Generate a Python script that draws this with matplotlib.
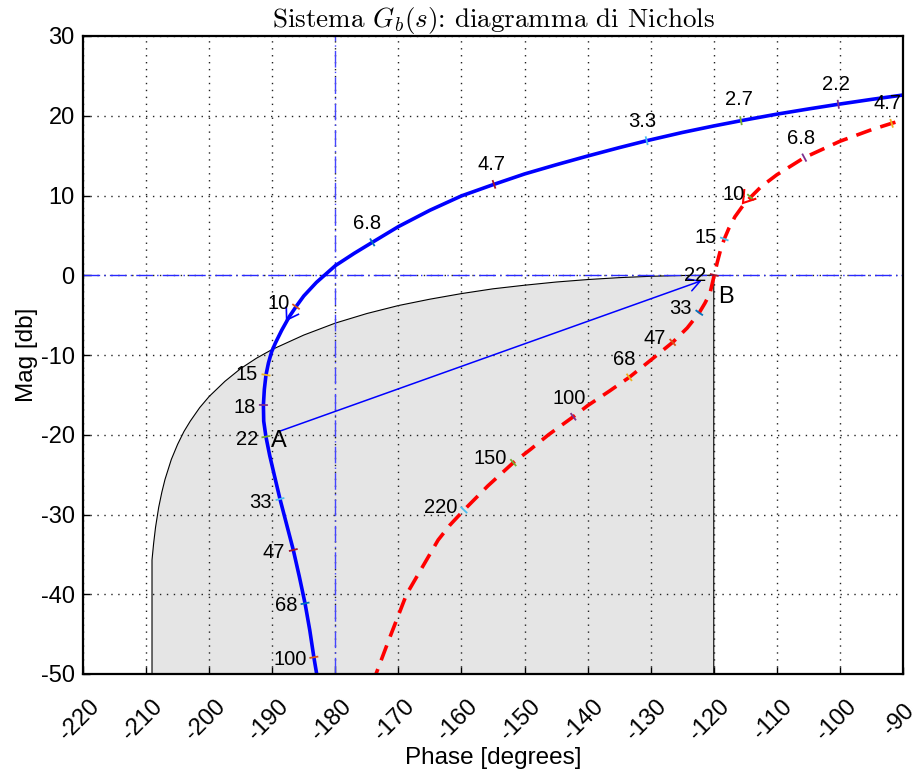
import numpy as np
import matplotlib
matplotlib.use("Agg")
import matplotlib.pyplot as plt
import matplotlib.transforms as mtransforms

plt.rcParams["font.family"] = ["Liberation Sans", "DejaVu Sans"]
plt.rcParams["mathtext.fontset"] = "cm"
plt.rcParams["axes.unicode_minus"] = False

# ---- Nichols loci (phase [deg], magnitude [dB]), ordered by increasing frequency
# uncompensated loop
g_phase = [-85.0, -90.0, -95.0, -100.26, -105.0, -110.0, -115.69, -120.0, -125.0,
           -130.64, -135.0, -140.0, -145.0, -150.0, -154.84, -160.0, -165.0, -170.0,
           -174.13, -177.0, -180.0, -183.0, -185.0, -186.23, -187.3, -188.5, -189.5,
           -190.1, -190.6, -190.99, -191.25, -191.4, -191.35, -191.0, -190.4, -189.6,
           -188.77, -187.7, -186.66, -185.7, -184.8, -184.05, -183.4, -182.95, -182.6]
g_mag = [23.1, 22.6, 22.05, 21.44, 20.85, 20.2, 19.38, 18.72, 17.9,
         16.87, 16.0, 14.95, 13.85, 12.7, 11.4, 9.95, 8.15, 6.1,
         4.13, 2.75, 1.2, -0.9, -2.6, -3.94, -5.2, -6.9, -8.5,
         -9.6, -11.0, -12.5, -14.3, -16.27, -18.3, -20.24, -22.6, -25.3,
         -28.06, -31.3, -34.45, -37.8, -41.14, -44.5, -47.9, -50.0, -52.0]

# compensated loop G_b
gb_phase = [-85.0, -90.0, -91.8, -95.0, -100.0, -105.65, -110.0, -112.5, -114.17,
            -115.4, -116.64, -117.6, -118.33, -118.95, -119.45, -119.92, -120.6,
            -121.4, -122.3, -124.2, -126.52, -130.0, -133.4, -136.5, -140.0, -142.27,
            -146.2, -149.0, -151.78, -155.8, -159.6, -161.8, -163.7, -166.2, -168.7,
            -171.5, -173.55, -174.4]
gb_mag = [20.3, 19.47, 19.05, 18.25, 16.8, 14.75, 12.6, 11.1, 9.78,
          8.7, 7.34, 5.9, 4.55, 3.1, 1.6, 0.03, -2.26,
          -3.5, -4.7, -6.6, -8.41, -10.65, -12.8, -14.5, -16.35, -17.74,
          -20.0, -21.8, -23.5, -26.4, -29.44, -31.3, -33.2, -36.6, -40.0,
          -45.7, -50.0, -52.0]

# frequency markers [rad/s]
g_marks = ["2.2", "2.7", "3.3", "4.7", "6.8", "10", "15", "18", "22", "33", "47", "68", "100"]
g_mark_phase = [-100.26, -115.69, -130.64, -154.84, -174.13, -186.23, -190.99,
                -191.4, -191.0, -188.77, -186.66, -184.8, -183.4]
g_mark_mag = [21.44, 19.38, 16.87, 11.4, 4.13, -3.94, -12.5,
              -16.27, -20.24, -28.06, -34.45, -41.14, -47.9]

gb_marks = ["4.7", "6.8", "10", "15", "22", "33", "47", "68", "100", "150", "220"]
gb_mark_phase = [-91.8, -105.65, -114.17, -118.33, -119.92, -122.3, -126.52,
                 -133.4, -142.27, -151.78, -159.6]
gb_mark_mag = [19.05, 14.75, 9.78, 4.55, 0.03, -4.7, -8.41,
               -12.8, -17.74, -23.5, -29.44]

# direction arrows (placed just past the 10 rad/s marker)
g_arrow = (-187.71, -5.61)
gb_arrow = (-115.37, 9.06)

# boundary of the shaded region
region_phase = [-209.06, -209.06, -208.8, -208.5, -208.0, -207.5, -207.0, -206.0,
                -205.0, -204.0, -203.0, -201.5, -200.0, -197.5, -195.0, -192.5,
                -190.0, -185.0, -180.0, -175.0, -170.0, -165.0, -160.0, -155.0,
                -150.0, -145.0, -140.0, -135.0, -130.0, -125.0, -120.0, -120.0]
region_mag = [-50.0, -35.7, -33.6, -31.6, -29.1, -27.2, -25.6, -23.1,
              -21.2, -19.6, -18.3, -16.6, -15.2, -13.3, -11.7, -10.4,
              -9.3, -7.5, -6.0, -4.8, -3.8, -3.0, -2.3, -1.7,
              -1.25, -0.85, -0.54, -0.3, -0.13, -0.03, 0.0, -50.0]

# point A (uncompensated, 22 rad/s) moved to point B
point_a = (-189.05, -19.62)
point_b = (-121.93, -0.68)

phase_ticks = list(range(-220, -89, 10))
mag_ticks = list(range(-50, 31, 10))

# ---- styling
BLUE = "#0000ff"
RED = "#ff0000"
PALETTE = ["#0072BD", "#D95319", "#EDB120", "#7E2F8E", "#77AC30", "#4DBEEE", "#A2142F"]
g_label_offsets = [(-2, 20), (-2, 21), (-4, 19), (-3, 20), (-5, 19), (-17, 3), (-19, 0),
                   (-19, -2), (-19, -3), (-20, -3), (-20, -3), (-19, -2), (-24, -2)]
gb_label_offsets = [(-4, 20), (-3, 19), (-17, 3), (-19, 1), (-19, 0), (-19, 4), (-18, 4),
                    (-5, 18), (-4, 18), (-23, 4), (-23, 3)]

W, H = 919, 771
fig = plt.figure(figsize=(W / 100, H / 100), dpi=100)
ax = fig.add_axes([83 / W, 1 - 674 / H, (903 - 83) / W, (674 - 36) / H])
ax.set_xlim(-220, -90)
ax.set_ylim(-50, 30)

# shaded region
ax.fill(region_phase, region_mag, facecolor="#e5e5e5", edgecolor="black",
        linewidth=0.8, zorder=1)

# reference lines at 0 dB and -180 deg
ax.axhline(0, color="#2a2aff", lw=1.0, linestyle=(0, (12, 3, 1, 3)), zorder=2)
ax.axvline(-180, color="#4545ff", lw=1.0, linestyle=(0, (12, 3, 1, 3)), zorder=2)

# loci
ax.plot(g_phase, g_mag, color=BLUE, lw=2.6, zorder=3, solid_capstyle="butt")
ax.plot(gb_phase, gb_mag, color=RED, lw=2.6, zorder=3, linestyle=(0, (4.4, 2.6)),
        dash_capstyle="butt")

fig.canvas.draw()
to_px = ax.transData.transform
to_data = ax.transData.inverted().transform


def tangent(xs, ys, x0, y0):
    pts = to_px(np.column_stack([xs, ys]))
    p0 = to_px((x0, y0))
    i = int(np.argmin(np.hypot(*(pts - p0).T)))
    j0, j1 = max(i - 1, 0), min(i + 1, len(pts) - 1)
    t = pts[j1] - pts[j0]
    return p0, t / np.hypot(*t)


def draw_marks(xs, ys, mph, mmag, labels, offsets, start):
    for k, (x0, y0, lab, off) in enumerate(zip(mph, mmag, labels, offsets)):
        p0, t = tangent(xs, ys, x0, y0)
        n = np.array([-t[1], t[0]])
        seg = to_data(np.array([p0 - 4.5 * n, p0 + 4.5 * n]))
        ax.plot(seg[:, 0], seg[:, 1], color=PALETTE[(start + k) % 7], lw=1.3,
                zorder=4, solid_capstyle="butt")
        ax.annotate(lab, (x0, y0), xytext=off, textcoords="offset pixels",
                    ha="center", va="center", fontsize=14.5, zorder=5)


def draw_arrowhead(xs, ys, tip, color, lw, length=13, half=33):
    p0, t = tangent(xs, ys, *tip)
    arms = []
    for s in (1, -1):
        a = np.deg2rad(s * half)
        r = np.array([[np.cos(a), -np.sin(a)], [np.sin(a), np.cos(a)]])
        arms.append(p0 - length * (r @ t))
    seg = to_data(np.array([arms[0], p0, arms[1]]))
    ax.plot(seg[:, 0], seg[:, 1], color=color, lw=lw, zorder=4,
            solid_joinstyle="miter")


draw_marks(g_phase, g_mag, g_mark_phase, g_mark_mag, g_marks, g_label_offsets, 3)
draw_marks(gb_phase, gb_mag, gb_mark_phase, gb_mark_mag, gb_marks, gb_label_offsets, 2)
draw_arrowhead(g_phase, g_mag, g_arrow, BLUE, 1.2)
draw_arrowhead(gb_phase, gb_mag, gb_arrow, RED, 1.5)

# A -> B displacement
ax.annotate("", xy=point_b, xytext=point_a,
            arrowprops=dict(arrowstyle="->,head_length=0.8,head_width=0.45",
                            color=BLUE, lw=1.1, shrinkA=0, shrinkB=0,
                            mutation_scale=10), zorder=4)
ax.annotate("A", point_a, xytext=(1, -9), textcoords="offset pixels",
            ha="center", va="center", fontsize=17, zorder=5)
ax.annotate("B", (gb_mark_phase[4], gb_mark_mag[4]), xytext=(12, -22),
            textcoords="offset pixels", ha="center", va="center", fontsize=17, zorder=5)

# axes, grid, labels
ax.set_xticks(phase_ticks)
ax.set_xticklabels([str(v) for v in phase_ticks], rotation=45, rotation_mode="anchor",
                   ha="center", va="center")
ax.set_yticks(mag_ticks)
ax.set_yticklabels([str(v) for v in mag_ticks])
ax.tick_params(direction="in", length=5, width=1.0, labelsize=17, colors="black")
ax.tick_params(axis="x", pad=33)
ax.tick_params(axis="y", pad=6)
shift = mtransforms.ScaledTranslation(-4 / 100, 0, fig.dpi_scale_trans)
for lab in ax.get_xticklabels():
    lab.set_transform(lab.get_transform() + shift)
ax.grid(True, color="#222222", lw=1.0, linestyle=(0, (1, 4)))
for sp in ax.spines.values():
    sp.set_linewidth(1.6)
    sp.set_zorder(6)

ax.set_xlabel("Phase [degrees]", fontsize=17.5, va="center")
ax.xaxis.set_label_coords(0.5, (674 - 758) / 638)
ax.set_ylabel("Mag [db]", fontsize=17.5, va="center")
ax.yaxis.set_label_coords((27 - 83) / 820, 0.5)
ax.set_title(r"Sistema $G_b(s)$: diagramma di Nichols", fontsize=19.5,
             family=["cmr10", "DejaVu Serif"], pad=4)

fig.savefig("out.png", dpi=100)
